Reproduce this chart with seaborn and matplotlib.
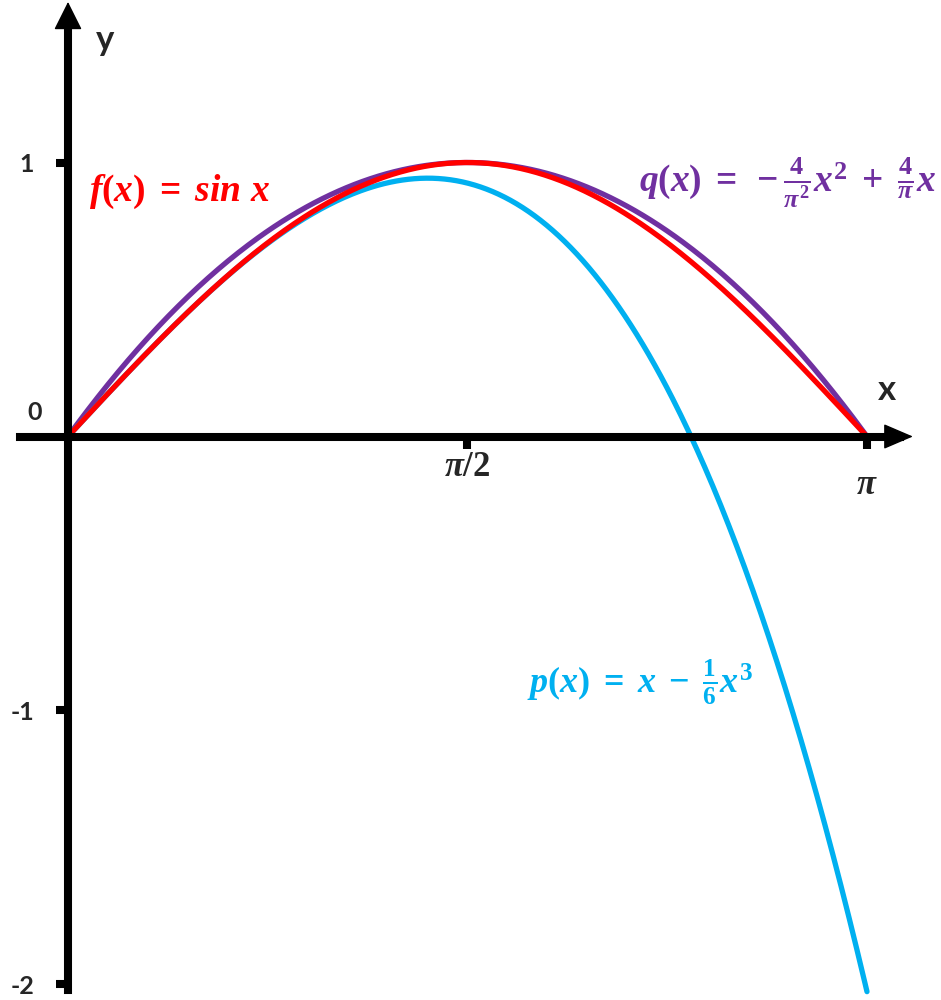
import matplotlib
matplotlib.use("Agg")
import matplotlib.pyplot as plt
import numpy as np
import pandas as pd
import seaborn as sns

X_END = np.pi
Q_COEFS = [-4 / np.pi**2, 4 / np.pi, 0.0]      # q(x) = -4/pi^2 x^2 + 4/pi x
P_COEFS = [-1 / 6, 0.0, 1.0, 0.0]             # p(x) = x - 1/6 x^3
CURVES = ["q", "p", "f"]
COLORS = {"f": "#ff0000", "q": "#7030a0", "p": "#00b0f0"}
Y_TICKS = [-2, -1, 1]
Y_TICKLABELS = ["-2", "-1", "1"]
X_TICKS = [np.pi / 2, np.pi]

sns.set_theme(style="white")
plt.rcParams["font.family"] = ["Lato", "DejaVu Sans"]
plt.rcParams["mathtext.fontset"] = "custom"
plt.rcParams["mathtext.it"] = "Liberation Serif:italic:bold"
plt.rcParams["mathtext.rm"] = "Liberation Serif:bold"
plt.rcParams["mathtext.bf"] = "Liberation Serif:bold"

x = np.linspace(0, X_END, 400)
df = pd.concat([
    pd.DataFrame({"x": x, "y": np.polyval(Q_COEFS, x), "curve": "q"}),
    pd.DataFrame({"x": x, "y": np.polyval(P_COEFS, x), "curve": "p"}),
    pd.DataFrame({"x": x, "y": np.sin(x), "curve": "f"}),
])

fig = plt.figure(figsize=(9.41, 10), dpi=100)
ax = fig.add_axes([0, 0, 1, 1])

sns.lineplot(data=df, x="x", y="y", hue="curve", hue_order=CURVES,
             palette=COLORS, lw=3.8, legend=False, estimator=None,
             sort=False, ax=ax)

ax.set_xlim(-0.2674, 3.4326)
ax.set_ylim(-2.0566, 1.5931)

# axes through the origin
for side in ["top", "right"]:
    ax.spines[side].set_visible(False)
for side in ["left", "bottom"]:
    ax.spines[side].set_position(("data", 0))
    ax.spines[side].set_linewidth(5.8)
    ax.spines[side].set_color("black")
ax.spines["left"].set_bounds(-2.02, 1.52)
ax.spines["bottom"].set_bounds(-0.19, 3.27)

ax.set_yticks(Y_TICKS)
ax.set_yticklabels(Y_TICKLABELS, fontsize=18, fontweight="bold")
ax.set_xticks(X_TICKS)
ax.set_xticklabels([])
ax.tick_params(direction="out", length=8.5, width=5.8, color="black",
               bottom=True, left=True)
ax.tick_params(axis="y", pad=16)
ax.set_xlabel("")
ax.set_ylabel("")

# arrow heads
ax.annotate("", xy=(0, 1.586), xytext=(0, 1.47),
            arrowprops=dict(arrowstyle="-|>,head_length=1.0,head_width=0.5",
                            mutation_scale=18, lw=1, color="black",
                            shrinkA=0, shrinkB=0))
ax.annotate("", xy=(3.322, 0), xytext=(3.2, 0),
            arrowprops=dict(arrowstyle="-|>,head_length=1.05,head_width=0.45",
                            mutation_scale=18, lw=1, color="black",
                            shrinkA=0, shrinkB=0))

# axis names and tick texts
ax.text(0.1455, 1.447, "y", fontsize=25, fontweight="bold", ha="center", va="center")
ax.text(3.22, 0.17, "x", fontsize=25, fontweight="bold", ha="center", va="center")
ax.text(-0.13, 0.089, "0", fontsize=18, fontweight="bold", ha="center", va="center")
ax.text(np.pi / 2, -0.108, r"$\pi/2$", fontsize=25, ha="center", va="center")
ax.text(np.pi, -0.173, r"$\pi$", fontsize=25, ha="center", va="center")

# curve labels
ax.text(0.44, 0.892, r"$f(x)\;=\;sin\ x$", fontsize=27, color=COLORS["f"],
        ha="center", va="center")
ax.text(2.827, 0.925, r"$q(x)\;=\;-\frac{4}{\pi^2}x^2\;+\;\frac{4}{\pi}x$",
        fontsize=27, color=COLORS["q"], ha="center", va="center")
ax.text(2.249, -0.899, r"$p(x)\;=\;x\;-\;\frac{1}{6}x^3$", fontsize=26,
        color=COLORS["p"], ha="center", va="center")

fig.savefig("out.png", dpi=100)
